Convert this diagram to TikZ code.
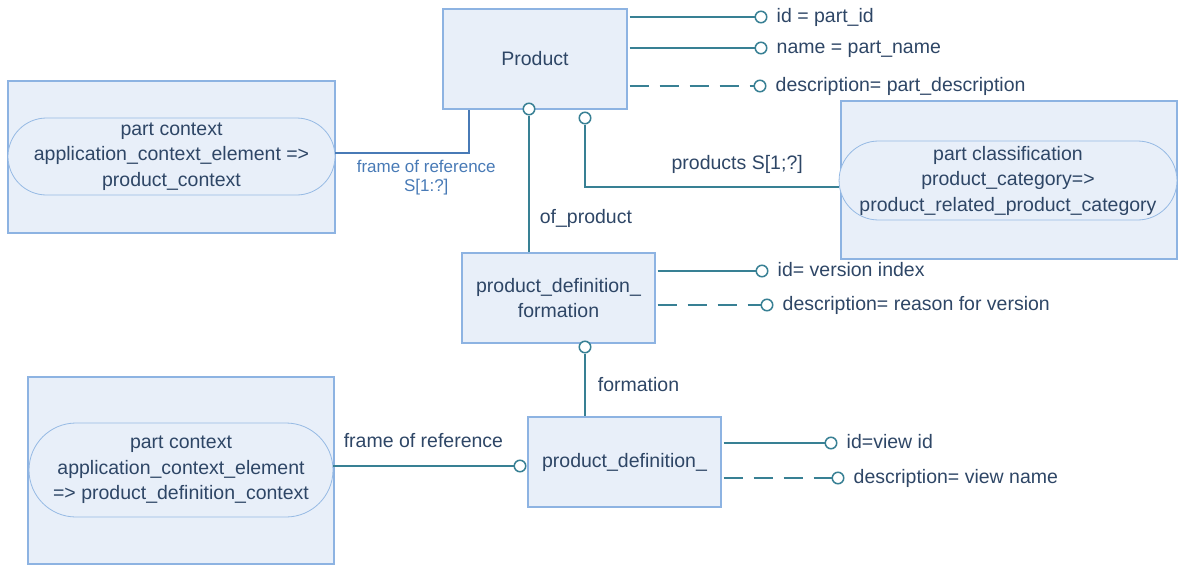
\documentclass[tikz,border=0pt]{standalone}
\usepackage{fontspec}
\setmainfont{Liberation Sans}
\usetikzlibrary{positioning,shapes.misc}
\definecolor{boxfill}{RGB}{232,239,249}
\definecolor{boxline}{RGB}{141,179,226}
\definecolor{capline}{RGB}{150,186,228}
\definecolor{linkline}{RGB}{56,128,148}
\definecolor{refline}{RGB}{72,122,182}
\definecolor{txt}{RGB}{46,70,102}
\tikzstyle{entity}=[draw=boxline,fill=boxfill,line width=1.2pt,inner sep=0pt,align=center,text=txt]
\tikzstyle{capsule}=[rounded rectangle,draw=capline,fill=boxfill,line width=0.8pt,inner sep=0pt,align=center,text=txt]
\tikzstyle{port}=[circle,draw=linkline,fill=white,line width=1.5pt,minimum size=11.5pt,inner sep=0pt]
\tikzstyle{link}=[draw=linkline,line width=1.7pt]
\tikzstyle{optlink}=[link,dash pattern=on 19pt off 11pt]
\tikzstyle{role}=[text=txt,inner sep=0pt,align=center]
\tikzstyle{attr}=[text=txt,inner sep=0pt,text height=14pt,text depth=4pt]
% attribute: #1 name, #2 owner, #3 port position, #4 line style, #5 text
\newcommand{\myattr}[5]{
  \node[port] (#1) at #3 {};
  \node[attr,right=9pt of #1] (#1t) {#5};
  \draw[#4,shorten <=2pt] (#2.east |- #1) -- (#1);
}
\begin{document}
\begin{tikzpicture}[x=1pt,y=-1pt,font=\fontsize{19.5}{25.5}\selectfont]
    \useasboundingbox (0,0) rectangle (1183,565);
    % entities
    \node[entity,minimum width=184pt,minimum height=100pt] (product) at (535,59) {Product};
    \node[entity,minimum width=193pt,minimum height=90pt] (pdf) at (558.5,298) {product\_definition\_\\formation};
    \node[entity,minimum width=193pt,minimum height=90pt] (pd) at (624.5,462) {product\_definition\_};

    % context frames
    \node[entity,minimum width=327pt,minimum height=152pt] (pcbox) at (171.5,157) {};
    \node[capsule,minimum width=327pt,minimum height=77pt] (pc) at (171.5,156.5) {part context\\application\_context\_element =>\\product\_context};
    \node[entity,minimum width=336pt,minimum height=158pt] (clsbox) at (1009,180) {};
    \node[capsule,minimum width=334pt,minimum height=79pt] (cls) at (1008,180.5) {part classification\\product\_category=>\\product\_related\_product\_category};
    \node[entity,minimum width=306pt,minimum height=187pt] (pdcbox) at (181,470.5) {};
    \node[capsule,minimum width=304pt,minimum height=94pt] (pdc) at (181,470) {part context\\application\_context\_element\\=> product\_definition\_context};

    % ports
    \node[port] (ofprod) at (529,109) {};
    \node[port] (prods) at (585,118) {};
    \node[port] (form) at (585,347) {};
    \node[port] (pdref) at (520,466) {};

    % relations
    \draw[refline,line width=1.7pt] ([yshift=3.5pt]pc.east) -| ([xshift=-66pt]product.south)
        node[role,pos=0.34,below=6pt,font=\fontsize{17}{19}\selectfont,text=refline] {frame of reference\\S[1:?]};
    \draw[link] (ofprod) -- (ofprod |- pdf.north) node[role,pos=0.75,right=10pt] {of\_product};
    \draw[link] (prods) |- ([yshift=-6.5pt]cls.west) node[role,pos=0.8,above=13pt] {products S[1;?]};
    \draw[link] (form) -- (form |- pd.north) node[role,midway,right=12pt] {formation};
    \draw[link] (pdc.east |- pdref) -- (pdref) node[role,midway,above=17pt] {frame of reference};

    % attributes
    \myattr{pid}{product}{(761,17)}{link}{id = part\_id}
    \myattr{pname}{product}{(761,48)}{link}{name = part\_name}
    \myattr{pdesc}{product}{(760,86)}{optlink}{description= part\_description}
    \myattr{vid}{pdf}{(762,271)}{link}{id= version index}
    \myattr{vdesc}{pdf}{(767,305)}{optlink}{description= reason for version}
    \myattr{wid}{pd}{(831,443)}{link}{id=view id}
    \myattr{wdesc}{pd}{(838,478)}{optlink}{description= view name}
\end{tikzpicture}
\end{document}
